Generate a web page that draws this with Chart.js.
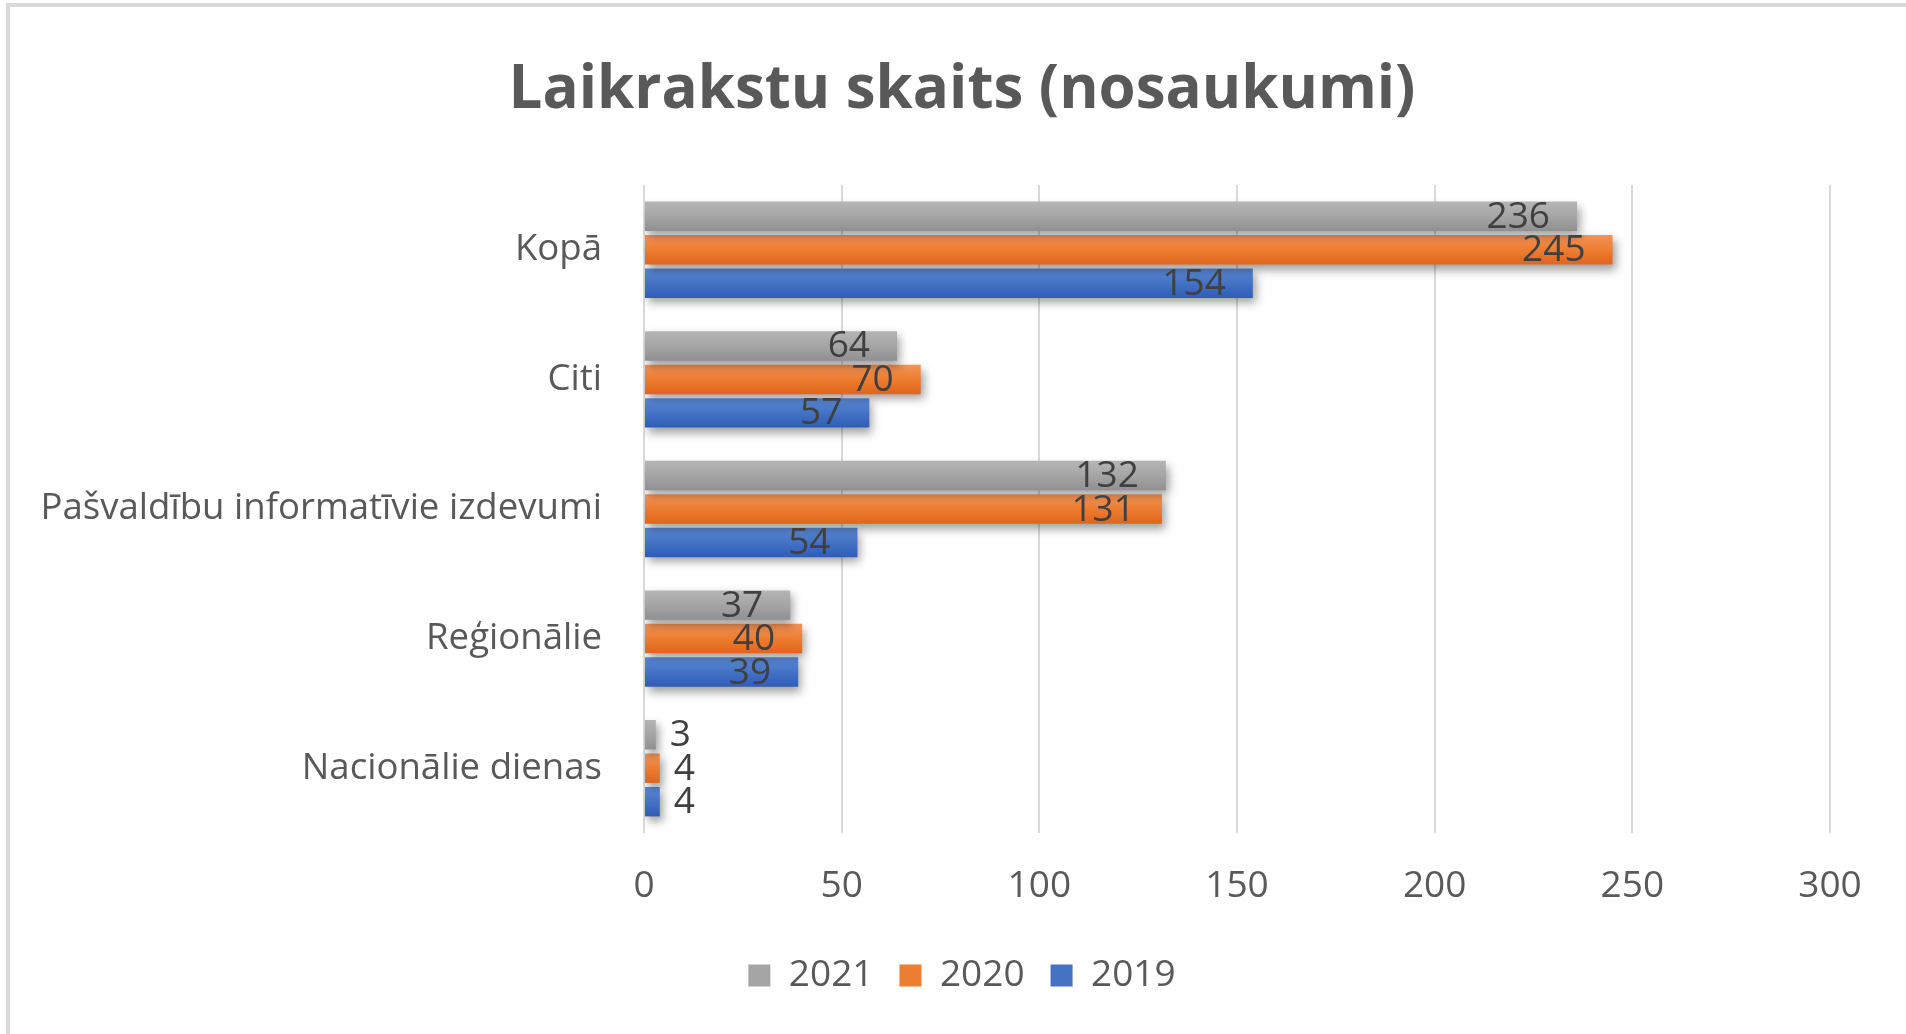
<!DOCTYPE html>
<html><head><meta charset="utf-8">
<script src="https://cdn.jsdelivr.net/npm/chart.js@4.4.1/dist/chart.umd.min.js"></script>
<style>
html,body{margin:0;padding:0;background:#fff;overflow:hidden;width:1906px;height:1034px}
#frame{position:absolute;left:6px;top:3px;width:1910px;height:1040px;border-top:4px solid #d9d9d9;border-left:4px solid #d9d9d9;box-sizing:border-box}
#wrap{position:absolute;left:0;top:0;width:1906px;height:1034px}
</style></head>
<body>
<div id="frame"></div>
<div id="wrap"><canvas id="c" width="1906" height="1034"></canvas></div>
<script>
const categories = ['Kopā', 'Citi', 'Pašvaldību informatīvie izdevumi', 'Reģionālie', 'Nacionālie dienas'];
const seriesNames = ['2021', '2020', '2019'];
const values2021 = [236, 64, 132, 37, 3];
const values2020 = [245, 70, 131, 40, 4];
const values2019 = [154, 57, 54, 39, 4];
const xTickValues = [0, 50, 100, 150, 200, 250, 300];
const chartTitle = 'Laikrakstu skaits (nosaukumi)';

const baseColors = ['#a5a5a5', '#ed7d31', '#4472c4'];
const gradTops = ['#b5b5b5', '#f39357', '#5c8bd8'];
const gradBottoms = ['#909090', '#e0651b', '#2e5db8'];

const FONT = "'Open Sans'";
const TXT = '#595959';

const barLook = {
  id: 'barLook',
  beforeDatasetsDraw(chart) {
    const ctx = chart.ctx;
    chart.data.datasets.forEach((ds, i) => {
      const meta = chart.getDatasetMeta(i);
      meta.data.forEach(el => {
        const h = el.height;
        const top = el.y - h / 2;
        const g = ctx.createLinearGradient(0, top, 0, top + h);
        g.addColorStop(0, gradTops[i]);
        g.addColorStop(0.5, baseColors[i]);
        g.addColorStop(1, gradBottoms[i]);
        if (el.options && !Object.isFrozen(el.options)) el.options.backgroundColor = g;
      });
    });
  },
  beforeDatasetDraw(chart) {
    const ctx = chart.ctx;
    ctx.save();
    ctx.shadowColor = 'rgba(0,0,0,0.38)';
    ctx.shadowBlur = 9;
    ctx.shadowOffsetX = 3;
    ctx.shadowOffsetY = 5;
  },
  afterDatasetDraw(chart) {
    chart.ctx.restore();
  },
  afterDatasetsDraw(chart) {
    const ctx = chart.ctx;
    ctx.save();
    ctx.font = '37px ' + FONT;
    ctx.fillStyle = '#404040';
    ctx.textBaseline = 'middle';
    chart.data.datasets.forEach((ds, i) => {
      const meta = chart.getDatasetMeta(i);
      meta.data.forEach((el, j) => {
        const txt = String(ds.data[j]);
        const tw = ctx.measureText(txt).width;
        const len = el.x - el.base;
        if (len > tw + 30) {
          ctx.textAlign = 'right';
          ctx.fillText(txt, el.x - 27, el.y + 1);
        } else {
          ctx.textAlign = 'left';
          ctx.fillText(txt, el.x + 14, el.y + 1);
        }
      });
    });
    ctx.restore();
  }
};

const seriesValues = [values2021, values2020, values2019];
const datasets = seriesNames.map((name, i) => ({
  label: name,
  data: seriesValues[i],
  backgroundColor: () => baseColors[i],
  borderWidth: 0,
  categoryPercentage: 0.775,
  barPercentage: 0.88
}));

new Chart(document.getElementById('c'), {
  type: 'bar',
  data: { labels: categories, datasets },
  options: {
    indexAxis: 'y',
    responsive: false,
    animation: false,
    layout: { padding: { left: 18, right: 0, top: 0, bottom: 30 } },
    scales: {
      x: {
        min: 0, max: 300,
        afterBuildTicks(scale) { scale.ticks = xTickValues.map(v => ({ value: v })); },
        afterFit(scale) { scale.height = 98; },
        ticks: { color: TXT, font: { family: FONT, size: 37 }, padding: 31 },
        grid: { color: '#d9d9d9', lineWidth: 2, drawTicks: false },
        border: { display: false }
      },
      y: {
        afterFit(scale) { scale.width = 626; },
        ticks: { color: TXT, font: { family: FONT, size: 36.6 }, padding: 42 },
        grid: { display: false, drawTicks: false },
        border: { display: false }
      },
      yRight: {
        type: 'category',
        position: 'right',
        afterFit(scale) { scale.width = 76; },
        ticks: { display: false },
        grid: { display: false, drawTicks: false },
        border: { display: false }
      }
    },
    plugins: {
      title: {
        display: true,
        text: chartTitle,
        color: TXT,
        font: { family: FONT, size: 60, weight: 'bold' },
        padding: { top: 55, bottom: 58 }
      },
      legend: {
        position: 'bottom',
        labels: {
          color: TXT,
          font: { family: FONT, size: 37 },
          boxWidth: 22,
          boxHeight: 22,
          padding: 26
        }
      },
      tooltip: { enabled: false }
    }
  },
  plugins: [barLook]
});
</script>
</body></html>
